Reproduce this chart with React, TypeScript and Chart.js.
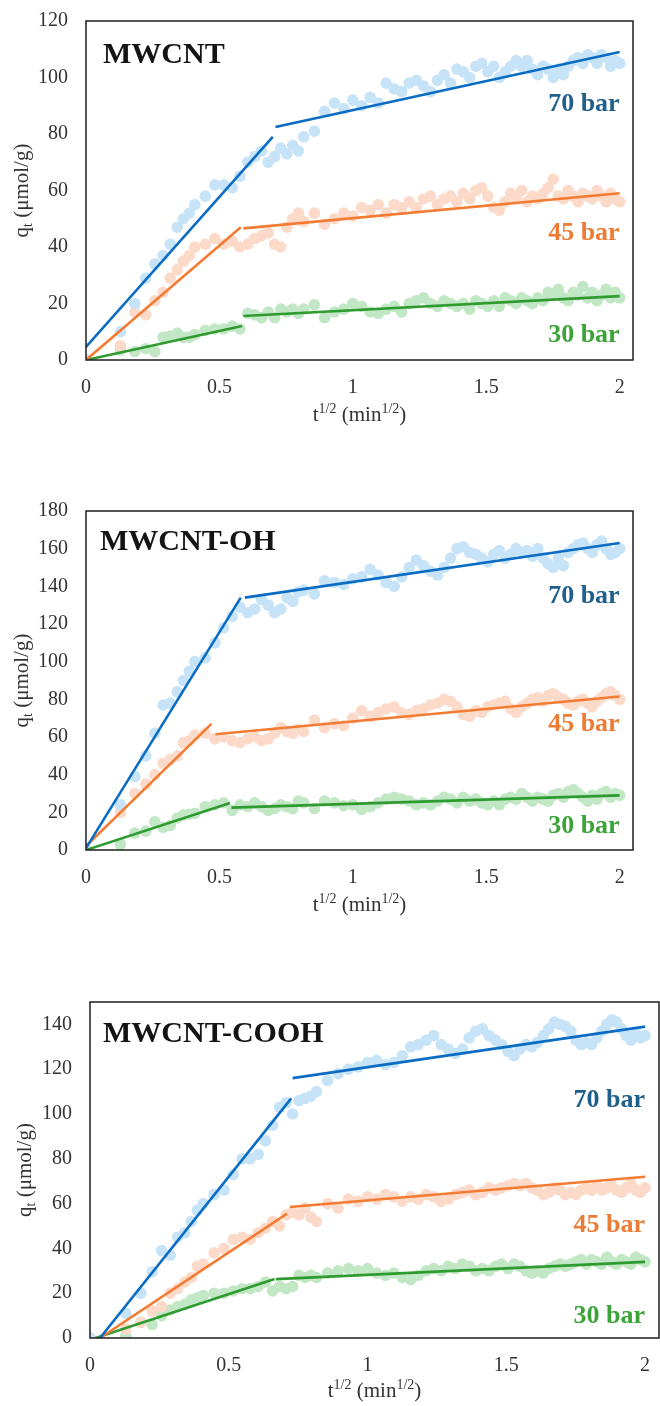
import React, { useEffect, useRef } from "react";
import { Chart, registerables } from "chart.js";

Chart.register(...registerables);

// ---------- data ----------
// t^(1/2) grid (min^1/2)
const SQRT_T = [
  0, 0.129, 0.183, 0.224, 0.258, 0.289, 0.316, 0.342, 0.365, 0.387, 0.408,
  0.447, 0.483, 0.516, 0.548, 0.577, 0.606, 0.632, 0.658, 0.683, 0.707, 0.73, 0.753, 0.775, 0.796, 0.816,
  0.856, 0.894, 0.931, 0.966, 1.0,
  1.033, 1.065, 1.095, 1.125, 1.155,
  1.183, 1.211, 1.238, 1.265, 1.291,
  1.317, 1.342, 1.366, 1.39, 1.414,
  1.438, 1.461, 1.483, 1.506, 1.528,
  1.549, 1.571, 1.592, 1.612, 1.633,
  1.653, 1.673, 1.693, 1.713, 1.732,
  1.751, 1.77, 1.789, 1.807, 1.826,
  1.844, 1.862, 1.88, 1.897, 1.915,
  1.932, 1.949, 1.966, 1.983, 2.0,
];

const X_TICKS = [0, 0.5, 1, 1.5, 2];
const X_TICK_LABELS = ["0", "0.5", "1", "1.5", "2"];

// Panel 1: MWCNT
const P1_Y_TICKS = [0, 20, 40, 60, 80, 100, 120];
const P1_70 = [
  0, 10, 20, 29, 34, 37, 41, 47, 50, 52, 55,
  58, 62, 62, 61, 65, 70, 72, 74, 70, 72, 75, 73, 76, 74, 79,
  81, 88, 91, 89, 92,
  90, 93, 91, 98, 96,
  95, 98, 99, 97, 95,
  99, 101, 98, 103, 102,
  100, 104, 105, 102, 104,
  100, 102, 104, 106, 104,
  106, 103, 101, 104, 103,
  100, 103, 101, 104, 106,
  107, 105, 108, 107, 105,
  108, 107, 104, 106, 105,
];
const P1_45 = [
  0, 5, 17, 16, 21, 24, 29, 32, 35, 37, 40,
  41, 43, 41, 42, 40, 41, 43, 44, 45, 41, 40, 47, 50, 52, 49,
  52, 48, 50, 52, 51,
  54, 53, 55, 52, 55,
  54, 56, 54, 57, 58,
  55, 57, 58, 56, 59,
  57, 60, 61, 58, 54,
  53, 56, 59, 57, 60,
  56, 58, 57, 59, 61,
  64, 58, 57, 60, 58,
  56, 59, 58, 57, 60,
  58, 56, 59, 57, 56,
];
const P1_30 = [
  0, 3.5, 3, 4, 3, 8, 8.5, 9.5, 8, 8, 9,
  10.5, 11, 11, 12, 11, 16.5, 16, 15, 17, 15, 18, 17, 18, 16.5, 18,
  19.5, 15, 17, 18, 20,
  19, 17, 16.5, 18, 19,
  17, 20, 21, 22, 20,
  19, 21, 20, 19, 20,
  18, 21, 20, 19, 21,
  19, 22, 21, 20, 22,
  21, 20, 22, 21, 24,
  23, 25, 22, 21, 24,
  23, 26, 22, 24, 21,
  23, 25, 22, 24, 22,
];
const P1_FIT_70 = [[{ x: 0, y: 4.6 }, { x: 0.7, y: 79 }], [{ x: 0.71, y: 82.5 }, { x: 2.0, y: 109 }]];
const P1_FIT_45 = [[{ x: 0, y: 0 }, { x: 0.58, y: 47 }], [{ x: 0.59, y: 46.6 }, { x: 2.0, y: 59 }]];
const P1_FIT_30 = [[{ x: 0, y: 0 }, { x: 0.585, y: 12 }], [{ x: 0.59, y: 15.6 }, { x: 2.0, y: 22.6 }]];
const P1_LABEL_Y = [88, 42.5, 6.4];

// Panel 2: MWCNT-OH
const P2_Y_TICKS = [0, 20, 40, 60, 80, 100, 120, 140, 160, 180];
const P2_70 = [
  0, 24, 39, 50, 62, 77, 78, 84, 90, 95, 100,
  102, 110, 118, 124, 129, 126, 128, 133, 130, 126, 128, 134, 132, 137, 138,
  136, 143, 142, 141, 144,
  145, 149, 146, 142, 140,
  145, 150, 154, 151, 148,
  146, 150, 155, 160, 161,
  158, 157, 155, 153, 157,
  159, 155, 157, 160, 158,
  159, 156, 160, 155, 152,
  150, 155, 151, 158, 160,
  162, 163, 160, 158, 162,
  164, 160, 157, 158, 160,
];
const P2_45 = [
  0, 20, 30, 35, 40, 46, 48, 50, 57, 58, 61,
  62, 59, 60, 58, 57, 59, 60, 58, 59, 62, 65, 63, 62, 64, 63,
  69, 65, 67, 66, 70,
  74, 71, 73, 75, 76,
  73, 72, 74, 75, 77,
  78, 80, 79, 76, 72,
  71, 74, 73, 76, 77,
  78, 79, 75, 73, 76,
  78, 80, 81, 79, 82,
  83, 81, 80, 78, 77,
  79, 80, 78, 76, 79,
  81, 83, 84, 82, 80,
];
const P2_30 = [
  0, 3, 9, 10, 15, 12, 13, 17, 18.6, 19, 19.5,
  23, 24, 25, 21, 24, 23, 25, 23, 21, 22, 24, 23, 22, 26, 25,
  22, 26, 25, 23.5, 24,
  21.5, 23, 25, 27, 28,
  27, 26, 24, 25, 24,
  26, 28, 27, 25, 28,
  26, 27, 25, 24, 26,
  24, 27, 28, 27, 30,
  28, 26, 28, 27, 26,
  29, 30, 28, 31, 32,
  30, 28, 26, 29, 27,
  30, 31, 28, 30, 29,
];
const P2_FIT_70 = [[{ x: 0, y: 1 }, { x: 0.58, y: 134 }], [{ x: 0.595, y: 134 }, { x: 2.0, y: 163 }]];
const P2_FIT_45 = [[{ x: 0, y: 2.1 }, { x: 0.47, y: 67 }], [{ x: 0.485, y: 61.5 }, { x: 2.0, y: 81.5 }]];
const P2_FIT_30 = [[{ x: 0, y: 0 }, { x: 0.54, y: 25 }], [{ x: 0.545, y: 22.5 }, { x: 2.0, y: 29 }]];
const P2_LABEL_Y = [131, 63, 9];

// Panel 3: MWCNT-COOH
const P3_Y_TICKS = [0, 20, 40, 60, 80, 100, 120, 140];
const P3_70 = [
  0, 11, 20, 29.5, 39, 37, 45, 47, 52, 57, 60,
  64, 66, 73, 80, 80, 82, 88, 95, 103, 105, 100, 106, 107, 108, 110,
  115, 118, 120, 121, 123,
  124, 122, 123, 126, 130,
  131, 133, 135, 131, 129,
  127, 129, 134, 137, 138,
  135, 133, 131, 128, 126,
  129, 131, 130, 132, 135,
  138, 141, 140, 139, 137,
  133, 131, 132, 131, 134,
  137, 140, 142, 141, 138,
  135, 133, 136, 134, 135,
];
const P3_45 = [
  0, 4, 7, 12, 14, 20, 22, 25, 27, 32, 33,
  38, 40, 44, 45, 44, 47, 49, 52, 50, 55, 56, 55, 58, 54, 52,
  60, 58, 62, 61, 63,
  62, 64, 63, 61, 63,
  62, 64, 63, 61, 62,
  64, 65, 66, 64, 65,
  67, 66, 67, 68, 69,
  68, 69, 67, 66, 64,
  65, 67, 66, 64, 65,
  64, 66, 67, 66, 68,
  66, 67, 68, 66, 65,
  67, 69, 66, 65, 67,
];
const P3_30 = [
  0, 1, 7, 6, 10, 12.5, 14, 15, 17, 18, 19,
  20, 20, 21, 22, 22, 23, 25, 21, 23, 22, 23, 28, 27, 28, 27,
  29, 30, 31, 30, 31,
  29, 28, 29, 27, 26,
  28, 30, 31, 30, 32,
  31, 33, 32, 30, 31,
  30, 32, 33, 31, 33,
  32, 30, 29, 30, 29,
  31, 32, 33, 32, 33,
  34, 35, 33, 35, 34,
  33, 36, 34, 33, 35,
  34, 33, 36, 35, 34,
];
const P3_FIT_70 = [[{ x: 0.036, y: 0 }, { x: 0.725, y: 107 }], [{ x: 0.73, y: 116 }, { x: 2.0, y: 139 }]];
const P3_FIT_45 = [[{ x: 0.036, y: 0 }, { x: 0.71, y: 55.5 }], [{ x: 0.72, y: 58.5 }, { x: 2.0, y: 72 }]];
const P3_FIT_30 = [[{ x: 0.02, y: 0 }, { x: 0.665, y: 26.3 }], [{ x: 0.67, y: 26.3 }, { x: 2.0, y: 34 }]];
const P3_LABEL_Y = [103, 47.4, 6.7];

const SERIES_NAMES = ["70 bar", "45 bar", "30 bar"];
const LABEL_X = 2.0;

// ---------- styles ----------
const SERIF = "'Liberation Serif', 'Times New Roman', serif";
const DOT_COLORS = ["#C6E3F8", "#FCDACA", "#C2E7C5"];
const LINE_COLORS = ["#0A6CC3", "#F47B32", "#2F9A30"];
const TEXT_COLORS = ["#1F5F8B", "#EE7B33", "#3BA337"];
const AXIS_TEXT = "#333333";

type Pt = { x: number; y: number };
type PanelCfg = {
  name: string;
  top: number;
  height: number;
  left: number;
  padRight: number;
  plotBottomGap: number;
  yMax: number;
  xMax: number;
  yTicks: number[];
  series: number[][];
  fits: Pt[][][];
  labelY: number[];
  nameX: number;
  nameBaseline: number;
  yTitleX: number;
  xTitleGap: number;
};

const PANELS: PanelCfg[] = [
  {
    name: "MWCNT", top: 0, height: 440, left: 86, padRight: 27, plotBottomGap: 80,
    yMax: 120, xMax: 2.05, yTicks: P1_Y_TICKS, series: [P1_70, P1_45, P1_30],
    fits: [P1_FIT_70, P1_FIT_45, P1_FIT_30], labelY: P1_LABEL_Y,
    nameX: 103, nameBaseline: 63, yTitleX: 28, xTitleGap: 61,
  },
  {
    name: "MWCNT-OH", top: 490, height: 440, left: 86, padRight: 27, plotBottomGap: 80,
    yMax: 180, xMax: 2.05, yTicks: P2_Y_TICKS, series: [P2_70, P2_45, P2_30],
    fits: [P2_FIT_70, P2_FIT_45, P2_FIT_30], labelY: P2_LABEL_Y,
    nameX: 100, nameBaseline: 60, yTitleX: 28, xTitleGap: 61,
  },
  {
    name: "MWCNT-COOH", top: 981, height: 425, left: 90, padRight: 1, plotBottomGap: 68,
    yMax: 150, xMax: 2.05, yTicks: P3_Y_TICKS, series: [P3_70, P3_45, P3_30],
    fits: [P3_FIT_70, P3_FIT_45, P3_FIT_30], labelY: P3_LABEL_Y,
    nameX: 103, nameBaseline: 61, yTitleX: 31, xTitleGap: 59,
  },
];

type Seg = { text: string; size: number; dy: number };
const Y_TITLE: Seg[] = [
  { text: "q", size: 21, dy: 0 },
  { text: "t", size: 14, dy: 4 },
  { text: " (μmol/g)", size: 21, dy: 0 },
];
const X_TITLE: Seg[] = [
  { text: "t", size: 21, dy: 0 },
  { text: "1/2", size: 14, dy: -8 },
  { text: " (min", size: 21, dy: 0 },
  { text: "1/2", size: 14, dy: -8 },
  { text: ")", size: 21, dy: 0 },
];

function drawRich(ctx: CanvasRenderingContext2D, segs: Seg[], cx: number, baseline: number) {
  const widths = segs.map((s) => {
    ctx.font = `${s.size}px ${SERIF}`;
    return ctx.measureText(s.text).width;
  });
  const total = widths.reduce((a, b) => a + b, 0);
  let x = cx - total / 2;
  ctx.textAlign = "left";
  ctx.textBaseline = "alphabetic";
  segs.forEach((s, i) => {
    ctx.font = `${s.size}px ${SERIF}`;
    ctx.fillText(s.text, x, baseline + s.dy);
    x += widths[i];
  });
}

function Panel({ cfg }: { cfg: PanelCfg }) {
  const ref = useRef<HTMLCanvasElement | null>(null);

  useEffect(() => {
    if (!ref.current) return;
    const datasets: any[] = [];
    cfg.fits.forEach((segs, si) => {
      segs.forEach((seg) => {
        datasets.push({
          type: "scatter",
          data: seg,
          showLine: true,
          borderColor: LINE_COLORS[si],
          borderWidth: 2.6,
          pointRadius: 0,
          fill: false,
          order: 0,
        });
      });
    });
    cfg.series.forEach((vals, si) => {
      datasets.push({
        type: "scatter",
        data: vals.map((v, i) => ({ x: SQRT_T[i], y: v })),
        showLine: false,
        pointRadius: 5.8,
        pointBorderWidth: 0,
        backgroundColor: DOT_COLORS[si],
        borderColor: DOT_COLORS[si],
        order: 1 + si,
      });
    });

    const overlay = {
      id: "overlay",
      afterDraw(chart: any) {
        const { ctx, chartArea } = chart;
        const xs = chart.scales.x;
        const ys = chart.scales.y;
        ctx.save();
        // frame
        ctx.strokeStyle = "#1e1e1e";
        ctx.lineWidth = 1.5;
        ctx.strokeRect(chartArea.left, chartArea.top, chartArea.right - chartArea.left, chartArea.bottom - chartArea.top);
        // panel name
        ctx.fillStyle = "#141414";
        ctx.font = `bold 30px ${SERIF}`;
        ctx.textAlign = "left";
        ctx.textBaseline = "alphabetic";
        ctx.fillText(cfg.name, cfg.nameX, cfg.nameBaseline);
        // series labels
        ctx.font = `bold 26px ${SERIF}`;
        ctx.textAlign = "right";
        SERIES_NAMES.forEach((n, i) => {
          ctx.fillStyle = TEXT_COLORS[i];
          ctx.fillText(n, xs.getPixelForValue(LABEL_X), ys.getPixelForValue(cfg.labelY[i]));
        });
        // axis titles
        ctx.fillStyle = AXIS_TEXT;
        drawRich(ctx, X_TITLE, (chartArea.left + chartArea.right) / 2, chartArea.bottom + cfg.xTitleGap);
        ctx.translate(cfg.yTitleX, (chartArea.top + chartArea.bottom) / 2);
        ctx.rotate(-Math.PI / 2);
        drawRich(ctx, Y_TITLE, 0, 0);
        ctx.restore();
      },
    };

    const tickFont = { family: SERIF, size: 20 };
    const chart = new Chart(ref.current, {
      type: "scatter",
      data: { datasets },
      options: {
        responsive: false,
        animation: false,
        devicePixelRatio: 1,
        layout: { autoPadding: false, padding: { top: 21, right: cfg.padRight, left: 0, bottom: 0 } },
        plugins: { legend: { display: false }, tooltip: { enabled: false }, title: { display: false } },
        scales: {
          x: {
            type: "linear",
            min: 0,
            max: cfg.xMax,
            grid: { display: false, drawTicks: false },
            border: { display: false },
            afterBuildTicks: (s: any) => {
              s.ticks = X_TICKS.map((v) => ({ value: v }));
            },
            afterFit: (s: any) => {
              s.height = cfg.plotBottomGap;
              s.paddingLeft = 0;
              s.paddingRight = 0;
              s.paddingTop = 0;
              s.paddingBottom = 0;
            },
            ticks: {
              padding: 16,
              font: tickFont,
              color: AXIS_TEXT,
              maxRotation: 0,
              autoSkip: false,
              callback: (_v: any, i: number) => X_TICK_LABELS[i],
            },
          },
          y: {
            type: "linear",
            min: 0,
            max: cfg.yMax,
            grid: { display: false, drawTicks: false },
            border: { display: false },
            afterBuildTicks: (s: any) => {
              s.ticks = cfg.yTicks.map((v) => ({ value: v }));
            },
            afterFit: (s: any) => {
              s.width = cfg.left;
              s.paddingLeft = 0;
              s.paddingRight = 0;
              s.paddingTop = 0;
              s.paddingBottom = 0;
            },
            ticks: {
              padding: 18,
              font: tickFont,
              color: AXIS_TEXT,
              autoSkip: false,
              callback: (_v: any, i: number) => String(cfg.yTicks[i]),
            },
          },
        },
      },
      plugins: [overlay],
    } as any);
    return () => chart.destroy();
  }, [cfg]);

  return (
    <canvas
      ref={ref}
      width={660}
      height={cfg.height}
      style={{ position: "absolute", left: 0, top: cfg.top, width: 660, height: cfg.height, display: "block" }}
    />
  );
}

export default function App() {
  return (
    <div style={{ position: "absolute", left: 0, top: 0, width: 660, height: 1406, background: "#ffffff", overflow: "hidden" }}>
      {PANELS.map((p) => (
        <Panel key={p.name} cfg={p} />
      ))}
    </div>
  );
}
